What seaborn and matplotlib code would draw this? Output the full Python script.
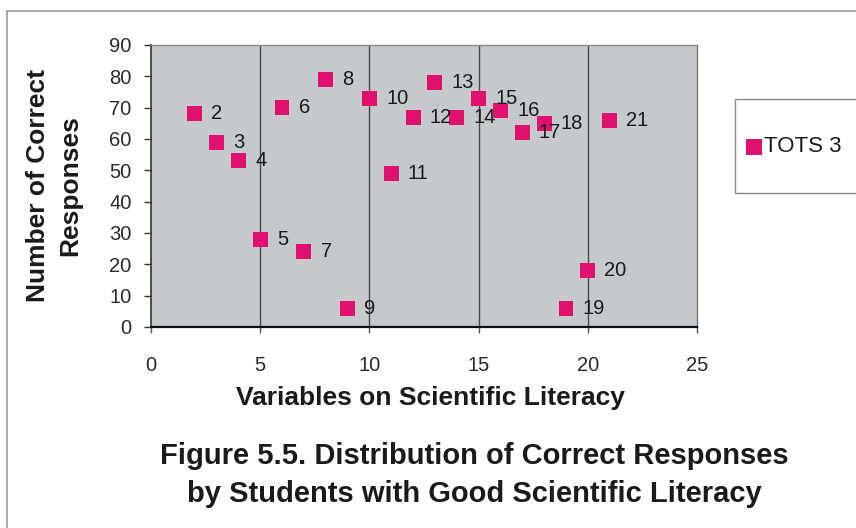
import matplotlib
matplotlib.use("Agg")
import matplotlib.pyplot as plt
from matplotlib.patches import Rectangle
import seaborn as sns
import pandas as pd

# Scientific literacy variables and number of correct responses (TOTS 3)
variables = [2, 3, 4, 5, 6, 7, 8, 9, 10, 11, 12, 13, 14, 15, 16, 17, 18, 19, 20, 21]
correct = [68, 59, 53, 28, 70, 24, 79, 6, 73, 49, 67, 78, 67, 73, 69, 62, 65, 6, 18, 66]
series_name = "TOTS 3"
x_ticks = [0, 5, 10, 15, 20, 25]
y_ticks = [0, 10, 20, 30, 40, 50, 60, 70, 80, 90]

df = pd.DataFrame({"var": variables, "correct": correct})

sns.set_theme(style="white")
plt.rcParams["font.family"] = ["Liberation Sans", "DejaVu Sans"]

W, H = 856, 528
fig = plt.figure(figsize=(W / 100, H / 100), dpi=100)
fig.patch.set_facecolor("white")

# outer chart frame (top and left edges visible)
fig.add_artist(plt.Line2D([7 / W, 7 / W], [0, 1 - 11 / H], color="#9a9a9a", lw=1.2))
fig.add_artist(plt.Line2D([7 / W, 1], [1 - 11 / H, 1 - 11 / H], color="#9a9a9a", lw=1.2))

left, right, top, bottom = 151, 697, 45, 327
ax = fig.add_axes([left / W, 1 - bottom / H, (right - left) / W, (bottom - top) / H])
ax.set_facecolor("#c5c9cb")

marker_color = "#e0106f"
sns.scatterplot(data=df, x="var", y="correct", marker="s", s=115, color=marker_color,
                edgecolor="none", linewidth=0, ax=ax, legend=False, zorder=3)

for v, c in zip(variables, correct):
    ax.annotate(str(v), (v, c), xytext=(12, 0), textcoords="offset points",
                ha="left", va="center", fontsize=14.5, color="#1a1a1a", zorder=4)

ax.set_xlim(0, 25)
ax.set_ylim(0, 90)
ax.set_xticks(x_ticks)
ax.set_yticks(y_ticks)
ax.set_xticklabels([str(t) for t in x_ticks])
ax.set_yticklabels([str(t) for t in y_ticks])
ax.tick_params(axis="y", direction="out", length=5, width=1, color="#333333",
               pad=9, labelsize=14.5, labelcolor="#2a2a2a", left=True)
ax.tick_params(axis="x", direction="out", length=4, width=1, color="#555555",
               pad=17, labelsize=14.5, labelcolor="#2a2a2a", bottom=True)

for xv in x_ticks[1:-1]:
    ax.axvline(xv, color="#4a4a4a", lw=1.0, zorder=1)

for side, col, lw in [("left", "#333333", 1.2), ("bottom", "#111111", 1.6),
                      ("top", "#888888", 1.0), ("right", "#777777", 1.0)]:
    ax.spines[side].set_visible(True)
    ax.spines[side].set_color(col)
    ax.spines[side].set_linewidth(lw)

ax.set_xlabel("")
ax.set_ylabel("")
fig.text(430 / W, 1 - 398 / H, "Variables on Scientific Literacy", ha="center", va="center",
         fontsize=19, fontweight="bold", color="#1a1a1a")
fig.text(38 / W, 1 - 186 / H, "Number of Correct", rotation=90, ha="center", va="center",
         fontsize=19, fontweight="bold", color="#1a1a1a")
fig.text(70 / W, 1 - 186 / H, "Responses", rotation=90, ha="center", va="center",
         fontsize=19, fontweight="bold", color="#1a1a1a")

# legend box on the right
fig.add_artist(Rectangle((735 / W, 1 - 193 / H), (900 - 735) / W, 94 / H,
                         transform=fig.transFigure, facecolor="white",
                         edgecolor="#8a8a8a", lw=1.0))
fig.add_artist(Rectangle((746 / W, 1 - 155 / H), 16 / W, 16 / H,
                         transform=fig.transFigure, facecolor=marker_color, edgecolor="none"))
fig.text(764 / W, 1 - 147 / H, series_name, ha="left", va="center", fontsize=16,
         color="#1a1a1a")

# figure caption
fig.text(474 / W, 1 - 456 / H, "Figure 5.5. Distribution of Correct Responses",
         ha="center", va="center", fontsize=21, fontweight="bold", color="#1a1a1a")
fig.text(474 / W, 1 - 494 / H, "by Students with Good Scientific Literacy",
         ha="center", va="center", fontsize=21, fontweight="bold", color="#1a1a1a")

fig.savefig("out.png", dpi=100, facecolor="white")
